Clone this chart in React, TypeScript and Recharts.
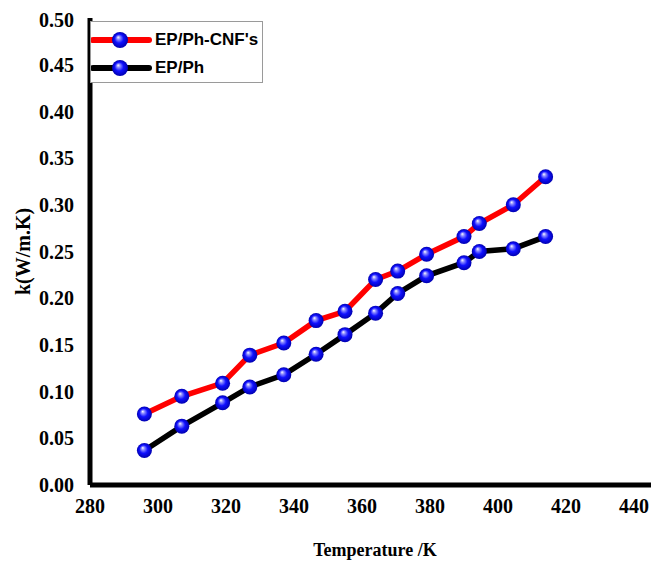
import React from "react";
import {
  LineChart,
  Line,
  XAxis,
  YAxis,
  ReferenceLine,
  Legend,
} from "recharts";

// temperature (K) shared by both series
const temperatures = [296, 307, 319, 327, 337, 346.5, 355, 364, 370.5, 379, 390, 394.5, 404.5, 414];
const cnfValues = [0.076, 0.095, 0.109, 0.139, 0.152, 0.176, 0.186, 0.22, 0.229, 0.247, 0.266, 0.28, 0.3, 0.33];
const phValues = [0.037, 0.063, 0.088, 0.105, 0.118, 0.14, 0.161, 0.184, 0.205, 0.224, 0.238, 0.25, 0.253, 0.266];

const seriesNames = ["EP/Ph-CNF's", "EP/Ph"];
const xTicks = [280, 300, 320, 340, 360, 380, 400, 420, 440];
const yTicks = [0, 0.05, 0.1, 0.15, 0.2, 0.25, 0.3, 0.35, 0.4, 0.45, 0.5];

const chartData = temperatures.map((t, i) => ({
  t,
  cnf: cnfValues[i],
  ph: phValues[i],
}));

const serif = "'Liberation Serif', 'Times New Roman', serif";
const sans = "'Liberation Sans', Arial, sans-serif";

function Ball({ cx, cy }: { cx?: number; cy?: number }) {
  if (cx == null || cy == null) return null;
  return <circle cx={cx} cy={cy} r={7.5} fill="url(#ballGrad)" />;
}

function BallDefs() {
  return (
    <defs>
      <radialGradient id="ballGrad" cx="50%" cy="50%" r="50%" fx="38%" fy="32%">
        <stop offset="0%" stopColor="#ffffff" />
        <stop offset="22%" stopColor="#8c8cff" />
        <stop offset="55%" stopColor="#1010ff" />
        <stop offset="100%" stopColor="#0000b0" />
      </radialGradient>
    </defs>
  );
}

function LegendBox({ payload }: any) {
  const items = [...(payload || [])].sort(
    (a: any, b: any) => seriesNames.indexOf(a.value) - seriesNames.indexOf(b.value)
  );
  return (
    <div
      style={{
        width: 173,
        height: 62,
        border: "1px solid #9a9a9a",
        background: "#fff",
        boxSizing: "border-box",
        paddingTop: 4,
      }}
    >
      {items.map((p: any) => (
        <div key={p.value} style={{ display: "flex", alignItems: "center", height: 28 }}>
          <svg width={62} height={20} style={{ display: "block" }}>
            <line x1={2} y1={10} x2={58} y2={10} stroke={p.color} strokeWidth={6} strokeLinecap="round" />
            <circle cx={29} cy={10} r={8} fill="url(#ballGrad)" />
          </svg>
          <span style={{ fontFamily: sans, fontWeight: 700, fontSize: 17, color: "#000", marginLeft: 2 }}>
            {p.value}
          </span>
        </div>
      ))}
    </div>
  );
}

export default function App() {
  return (
    <div style={{ width: 651, height: 556, overflow: "hidden", position: "relative" }}>
      <LineChart
        width={720}
        height={556}
        data={chartData}
        margin={{ top: 10, right: 26, left: 0, bottom: 0 }}
      >
        <BallDefs />
        <XAxis
          type="number"
          dataKey="t"
          domain={[280, 460]}
          ticks={xTicks}
          allowDataOverflow
          tickLine={false}
          tickSize={0}
          tickMargin={14}
          height={79}
          axisLine={{ stroke: "#000", strokeWidth: 5 }}
          tick={{ fill: "#000", fontFamily: serif, fontWeight: 700, fontSize: 20 }}
          label={{
            value: "Temperature /K",
            position: "insideBottom",
            offset: 8,
            dx: -21,
            style: { fill: "#000", fontFamily: serif, fontWeight: 700, fontSize: 18 },
          }}
        />
        <XAxis
          xAxisId="top"
          orientation="top"
          type="number"
          dataKey="t"
          domain={[280, 460]}
          height={0}
          tick={false}
          tickLine={false}
          axisLine={{ stroke: "#000", strokeWidth: 5 }}
        />
        <YAxis
          type="number"
          domain={[0, 0.5]}
          ticks={yTicks}
          width={82}
          tickLine={false}
          tickSize={0}
          tickMargin={16}
          axisLine={{ stroke: "#000", strokeWidth: 5 }}
          tickFormatter={(v: number) => v.toFixed(2)}
          tick={{ fill: "#000", fontFamily: serif, fontWeight: 700, fontSize: 20 }}
          label={{
            value: "k(W/m.K)",
            angle: -90,
            position: "insideLeft",
            offset: 15,
            style: { fill: "#000", fontFamily: serif, fontWeight: 700, fontSize: 20, textAnchor: "middle" },
          }}
        />
        <ReferenceLine x={460} stroke="#000" strokeWidth={5} />
        <Legend
          layout="vertical"
          verticalAlign="middle"
          align="center"
          content={<LegendBox />}
          wrapperStyle={{ left: 82, top: 13, width: 173 }}
        />
        <Line
          name="EP/Ph-CNF's"
          dataKey="cnf"
          stroke="#ff0000"
          strokeWidth={5.5}
          dot={<Ball />}
          activeDot={false}
          isAnimationActive={false}
        />
        <Line
          name="EP/Ph"
          dataKey="ph"
          stroke="#000000"
          strokeWidth={5.5}
          dot={<Ball />}
          activeDot={false}
          isAnimationActive={false}
        />
      </LineChart>
    </div>
  );
}
